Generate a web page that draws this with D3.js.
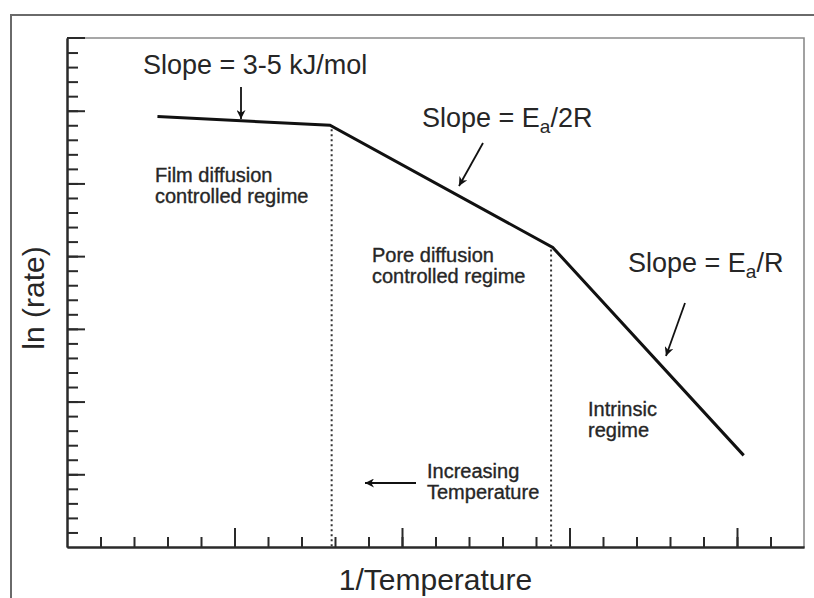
<!DOCTYPE html>
<html>
<head>
<meta charset="utf-8">
<script src="https://cdn.jsdelivr.net/npm/d3@7"></script>
<style>
  body { margin: 0; background: #fff; }
  svg text { font-family: "Liberation Sans", Arial, Helvetica, sans-serif; fill: #262626; }
  svg text.small { stroke: #262626; stroke-width: 0.35px; }
</style>
</head>
<body>
<svg id="chart" width="814" height="598"></svg>
<script>
// ln(rate) vs 1/T, values in arbitrary axis units
var invTemp = [2.7, 7.85, 14.5, 20.2];
var lnRate  = [29.6, 29.0, 20.6, 6.3];
var regimeBounds = [7.9, 14.45];
var xMinorTicks = d3.range(1, 22);
var xMajorTicks = [5, 10, 15, 20];
var yMinorTicks = d3.range(1, 35);
var yMajorTicks = [5, 10, 15, 20, 25, 30];

var margin = {top: 38, right: 10, bottom: 51, left: 67},
    width = 814 - margin.left - margin.right,
    height = 598 - margin.top - margin.bottom;

var svg = d3.select('#chart');

svg.append('defs').append('marker')
    .attr('id', 'head')
    .attr('viewBox', '0 0 10 10')
    .attr('refX', 10).attr('refY', 5)
    .attr('markerWidth', 12).attr('markerHeight', 9)
    .attr('markerUnits', 'userSpaceOnUse')
    .attr('orient', 'auto')
  .append('path')
    .attr('d', 'M0,0 L10,5 L0,10 L3,5 Z')
    .attr('fill', '#111');

// outer border from the scan
svg.append('path')
    .attr('d', 'M11,598 L11,15 L814,15')
    .attr('fill', 'none')
    .attr('stroke', '#6a6a6a')
    .attr('stroke-width', 2);

var x = d3.scaleLinear().domain([0, 22]).range([0, width]);
var y = d3.scaleLinear().domain([0, 35]).range([height, 0]);

var g = svg.append('g').attr('transform', 'translate(' + margin.left + ',' + margin.top + ')');

// top and right frame (lighter)
g.append('path')
    .attr('d', 'M0,0 L' + width + ',0 L' + width + ',' + height)
    .attr('fill', 'none')
    .attr('stroke', '#8a8a8a')
    .attr('stroke-width', 1.6);

function styleAxis(sel) {
    sel.selectAll('.domain').attr('stroke', '#2a2a2a').attr('stroke-width', 2);
    sel.selectAll('.tick line').attr('stroke', '#2a2a2a').attr('stroke-width', 2);
    sel.selectAll('.tick text').remove();
}

g.append('g').call(d3.axisLeft(y).tickValues(yMinorTicks).tickSizeInner(-11).tickSizeOuter(0).tickFormat(''))
    .call(styleAxis);
g.append('g').call(d3.axisLeft(y).tickValues(yMajorTicks).tickSizeInner(-18).tickSizeOuter(0).tickFormat(''))
    .call(styleAxis);
g.append('g').attr('transform', 'translate(0,' + height + ')')
    .call(d3.axisBottom(x).tickValues(xMinorTicks).tickSizeInner(-10).tickSizeOuter(0).tickFormat(''))
    .call(styleAxis);
g.append('g').attr('transform', 'translate(0,' + height + ')')
    .call(d3.axisBottom(x).tickValues(xMajorTicks).tickSizeInner(-19).tickSizeOuter(0).tickFormat(''))
    .call(styleAxis);
// major tick at top-left corner
g.append('line').attr('x1', 0).attr('x2', 18).attr('y1', y(35)).attr('y2', y(35))
    .attr('stroke', '#2a2a2a').attr('stroke-width', 2);

// regime boundaries (dotted)
var pts = invTemp.map(function(d, i) { return [d, lnRate[i]]; });
var interp = function(xv) {
    for (var i = 0; i < pts.length - 1; i++) {
        if (xv >= pts[i][0] && xv <= pts[i + 1][0]) {
            var t = (xv - pts[i][0]) / (pts[i + 1][0] - pts[i][0]);
            return pts[i][1] + t * (pts[i + 1][1] - pts[i][1]);
        }
    }
    return pts[0][1];
};
g.selectAll('.bound')
    .data(regimeBounds)
    .enter().append('line')
    .attr('class', 'bound')
    .attr('x1', d => x(d)).attr('x2', d => x(d))
    .attr('y1', d => y(interp(d)) + 3)
    .attr('y2', height)
    .attr('stroke', '#333')
    .attr('stroke-width', 2)
    .attr('stroke-dasharray', '2,3');

// the curve
var line = d3.line().x(d => x(d[0])).y(d => y(d[1]));
g.append('path')
    .datum(pts)
    .attr('d', line)
    .attr('fill', 'none')
    .attr('stroke', '#111')
    .attr('stroke-width', 3)
    .attr('stroke-linejoin', 'miter');

// annotations
function arrow(x1, y1, x2, y2) {
    svg.append('line')
        .attr('x1', x1).attr('y1', y1).attr('x2', x2).attr('y2', y2)
        .attr('stroke', '#111').attr('stroke-width', 1.8)
        .attr('marker-end', 'url(#head)');
}

function slopeLabel(tx, ty, parts) {
    var t = svg.append('text').attr('x', tx).attr('y', ty).attr('font-size', 27);
    parts.forEach(function(p) {
        var s = t.append('tspan').text(p.text);
        if (p.sub) s.attr('font-size', 19).attr('dy', 6);
        if (p.after) s.attr('dy', -6);
    });
}

slopeLabel(143, 74, [{text: 'Slope = 3-5 kJ/mol'}]);
arrow(241, 87, 241, 119);

slopeLabel(422, 127, [{text: 'Slope = E'}, {text: 'a', sub: true}, {text: '/2R', after: true}]);
arrow(483, 143, 459, 186);

slopeLabel(628, 272, [{text: 'Slope = E'}, {text: 'a', sub: true}, {text: '/R', after: true}]);
arrow(685, 303, 666, 356);

function regimeLabel(tx, ty, lines) {
    var t = svg.append('text').attr('class', 'small').attr('x', tx).attr('y', ty).attr('font-size', 20);
    lines.forEach(function(l, i) {
        t.append('tspan').attr('x', tx).attr('dy', i ? 21 : 0).text(l);
    });
}
regimeLabel(155, 182, ['Film diffusion', 'controlled regime']);
regimeLabel(372, 262, ['Pore diffusion', 'controlled regime']);
regimeLabel(588, 416, ['Intrinsic', 'regime']);
regimeLabel(427, 478, ['Increasing', 'Temperature']);
arrow(416, 483, 365, 483);

// axis titles
svg.append('text')
    .attr('x', margin.left + x(11))
    .attr('y', 590)
    .attr('text-anchor', 'middle')
    .attr('font-size', 30)
    .text('1/Temperature');

svg.append('text')
    .attr('transform', 'translate(44,' + 298 + ') rotate(-90)')
    .attr('text-anchor', 'middle')
    .attr('font-size', 30)
    .text('ln (rate)');
</script>
</body>
</html>
